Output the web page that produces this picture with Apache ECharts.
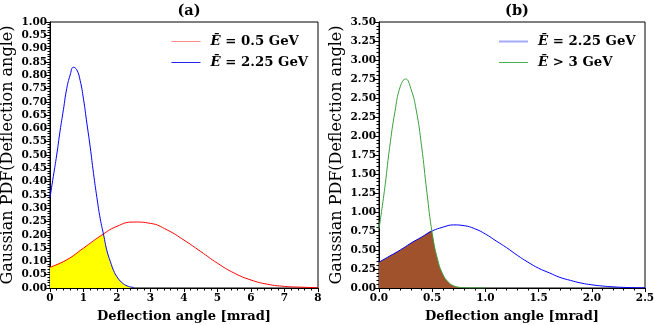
<!DOCTYPE html>
<html>
<head>
<meta charset="utf-8">
<script src="https://cdn.jsdelivr.net/npm/echarts@6/dist/echarts.min.js"></script>
<style>
  html, body { margin: 0; padding: 0; background: #fff; }
  #chart { width: 654px; height: 325px; }
</style>
</head>
<body>
<div id="chart"></div>
<script>
// values
const blueX = [0, 0.1, 0.2, 0.3, 0.4, 0.5, 0.6, 0.7, 0.8, 0.9, 1.0, 1.1, 1.2, 1.3, 1.4, 1.5, 1.6, 1.7, 1.8, 1.9, 2.0, 2.1, 2.2, 2.3, 2.4, 2.5];
const blueY = [0.34, 0.42, 0.50, 0.59, 0.67, 0.75, 0.80, 0.83, 0.82, 0.78, 0.71, 0.62, 0.53, 0.43, 0.34, 0.26, 0.20, 0.14, 0.10, 0.065, 0.042, 0.026, 0.015, 0.008, 0.004, 0.002];

const redX = [0, 0.5, 1.0, 1.5, 2.0, 2.5, 3.0, 3.5, 4.0, 4.5, 5.0, 5.5, 6.0, 6.5, 7.0, 7.5, 8.0];
const redY = [0.078, 0.106, 0.15, 0.195, 0.232, 0.248, 0.243, 0.218, 0.18, 0.137, 0.093, 0.056, 0.030, 0.014, 0.006, 0.003, 0.001];

const greenX = [0, 0.05, 0.1, 0.15, 0.2, 0.25, 0.3, 0.35, 0.4, 0.45, 0.5, 0.55, 0.6, 0.65, 0.7, 0.75, 0.8, 0.85, 0.9, 0.95, 1.0];
const greenY = [0.78, 1.27, 1.85, 2.32, 2.65, 2.75, 2.62, 2.34, 1.87, 1.26, 0.72, 0.38, 0.18, 0.08, 0.03, 0.01, 0.003, 0.001, 0, 0, 0];

const crossA = [1.57, 0.205]; // red / blue crossing, panel (a)
const crossB = [0.495, 0.754]; // blue / green crossing, panel (b)

const nameRed = 'Ē = 0.5 GeV';
const nameBlue = 'Ē = 2.25 GeV';
const nameGreen = 'Ē > 3 GeV';

const zip = (xs, ys) => xs.map((x, i) => [x, ys[i]]);
const blue = zip(blueX, blueY);
const red = zip(redX, redY);
const green = zip(greenX, greenY);

// lower envelope under both curves
const fillA = red.filter(p => p[0] < crossA[0]).concat([crossA], blue.filter(p => p[0] > crossA[0]));
const fillB = blue.filter(p => p[0] < crossB[0]).concat([crossB], green.filter(p => p[0] > crossB[0]));

const serif = 'DejaVu Serif';
const lbl = { fontFamily: serif, fontWeight: 'bold', fontSize: 10.5, color: '#000' };

function xAx(idx, max, interval, dec) {
    return {
        type: 'value', gridIndex: idx, min: 0, max: max, interval: interval,
        name: 'Deflection angle [mrad]', nameLocation: 'middle', nameGap: 22,
        nameTextStyle: { fontFamily: serif, fontWeight: 'bold', fontSize: 13, color: '#000' },
        axisLine: { lineStyle: { color: '#000', width: 1 } },
        axisTick: { length: 4, lineStyle: { color: '#000' } },
        minorTick: { show: true, splitNumber: 5, length: 2.5, lineStyle: { color: '#000' } },
        axisLabel: Object.assign({ margin: 5, formatter: v => v.toFixed(dec) }, lbl),
        splitLine: { show: false }
    };
}
function yAx(idx, max, interval) {
    return {
        type: 'value', gridIndex: idx, min: 0, max: max, interval: interval,
        name: 'Gaussian PDF(Deflection angle)', nameLocation: 'middle', nameGap: 34,
        nameTextStyle: { fontFamily: serif, fontSize: 16, color: '#000' },
        axisLine: { show: true, lineStyle: { color: '#000', width: 1 } },
        axisTick: { show: true, length: 4, lineStyle: { color: '#000' } },
        minorTick: { show: true, splitNumber: 5, length: 2.5, lineStyle: { color: '#000' } },
        axisLabel: Object.assign({ margin: 3, formatter: v => v.toFixed(2) }, lbl),
        splitLine: { show: false }
    };
}
function lineSeries(name, data, color, idx) {
    return {
        name: name, type: 'line', data: data, xAxisIndex: idx, yAxisIndex: idx,
        smooth: 0.5, symbol: 'none', z: 3,
        lineStyle: { color: color, width: 1 }, itemStyle: { color: color }
    };
}
function fillSeries(data, color, idx) {
    return {
        type: 'line', data: data, xAxisIndex: idx, yAxisIndex: idx,
        smooth: 0.5, symbol: 'none', silent: true, z: 1,
        lineStyle: { width: 0 }, areaStyle: { color: color, opacity: 1 }
    };
}
const legendText = {
    fontFamily: serif, fontWeight: 'bold', fontSize: 13.3, color: '#000', padding: [0, 0, 0, 5],
    rich: { e: { fontFamily: serif, fontWeight: 'bold', fontStyle: 'italic', fontSize: 13.3, color: '#000' } }
};
const legendFmt = n => '{e|Ē}' + n.slice(1);
const legendItem = (name, color, w) => ({ name: name, itemStyle: { opacity: 0 }, lineStyle: { color: color, width: w } });

const chart = echarts.init(document.getElementById('chart'), null, { renderer: 'canvas' });
chart.setOption({
    animation: false,
    backgroundColor: '#fff',
    title: [
        { text: '(a)', left: 184, top: -1, textAlign: 'center', textStyle: { fontFamily: serif, fontWeight: 'bold', fontSize: 14.5, color: '#000' } },
        { text: '(b)', left: 512, top: -1, textAlign: 'center', textStyle: { fontFamily: serif, fontWeight: 'bold', fontSize: 14.5, color: '#000' } }
    ],
    grid: [
        { left: 50, right: 336, top: 22, bottom: 37, show: true, borderColor: '#000', borderWidth: 1, outerBoundsMode: 'none', containLabel: false },
        { left: 379, right: 9, top: 22, bottom: 37, show: true, borderColor: '#000', borderWidth: 1, outerBoundsMode: 'none', containLabel: false }
    ],
    legend: [
        {
            left: 166, top: 30, orient: 'vertical', itemWidth: 29, itemHeight: 10, itemGap: 8,
            textStyle: legendText, formatter: legendFmt,
            data: [legendItem(nameRed, '#ff8a8a', 1), legendItem(nameBlue, '#2222ee', 1)]
        },
        {
            left: 493, top: 30, orient: 'vertical', itemWidth: 29, itemHeight: 10, itemGap: 8,
            textStyle: legendText, formatter: legendFmt,
            data: [legendItem(nameBlue + ' ', '#a4aaf6', 2), legendItem(nameGreen, '#4caf50', 1)]
        }
    ],
    xAxis: [xAx(0, 8, 1, 0), xAx(1, 2.5, 0.5, 1)],
    yAxis: [yAx(0, 1, 0.05), yAx(1, 3.5, 0.25)],
    series: [
        fillSeries(fillA, '#ffff00', 0),
        lineSeries(nameRed, red, '#ff0000', 0),
        lineSeries(nameBlue, blue, '#0000ff', 0),
        fillSeries(fillB, '#a0522d', 1),
        lineSeries(nameBlue + ' ', blue, '#0000ff', 1),
        lineSeries(nameGreen, green, '#3ca03c', 1)
    ]
});
</script>
</body>
</html>
